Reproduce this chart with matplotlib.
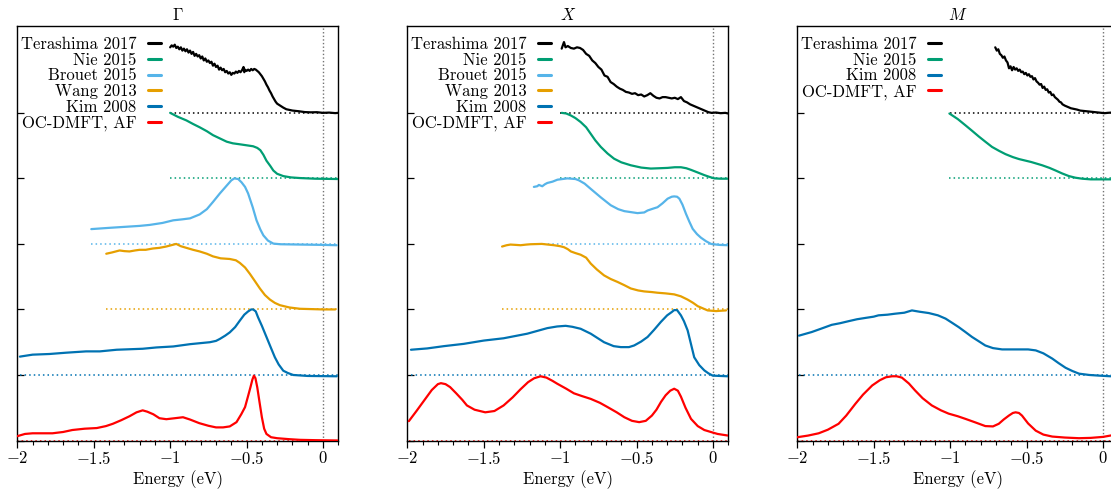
import numpy as np
import matplotlib
matplotlib.use("Agg")
import matplotlib.pyplot as plt
from matplotlib.ticker import FuncFormatter, MultipleLocator

plt.rcParams["font.family"] = ["cmr10", "DejaVu Serif"]
plt.rcParams["mathtext.fontset"] = "cm"
plt.rcParams["axes.unicode_minus"] = False

# ---------------------------------------------------------------- data
# Normalised spectra (0..1) versus energy (eV), one panel per k-point.

# Gamma point
G_ter_x = [-1.00, -0.99, -0.98, -0.97, -0.96, -0.95, -0.94, -0.93, -0.92, -0.91, -0.90, -0.89,
           -0.88, -0.87, -0.86, -0.85, -0.84, -0.83, -0.82, -0.81, -0.80, -0.79, -0.78, -0.77,
           -0.76, -0.75, -0.74, -0.73, -0.72, -0.71, -0.70, -0.69, -0.68, -0.67, -0.66, -0.65,
           -0.64, -0.63, -0.62, -0.61, -0.60, -0.59, -0.58, -0.57, -0.56, -0.55, -0.54, -0.53,
           -0.52, -0.515, -0.51, -0.50, -0.49, -0.48, -0.47, -0.46, -0.45, -0.44, -0.43, -0.42,
           -0.41, -0.40, -0.39, -0.38, -0.37, -0.36, -0.35, -0.34, -0.33, -0.32, -0.31, -0.30,
           -0.28, -0.26, -0.24, -0.22, -0.20, -0.16, -0.12, -0.08, -0.04, 0.00, 0.04, 0.08, 0.10]
G_ter_y = [1.00, 1.03, 1.01, 1.04, 0.99, 1.01, 0.97, 1.00, 0.95, 0.98, 0.94, 0.97,
           0.92, 0.95, 0.90, 0.93, 0.87, 0.90, 0.86, 0.88, 0.83, 0.86, 0.80, 0.83,
           0.78, 0.80, 0.76, 0.78, 0.72, 0.75, 0.70, 0.72, 0.66, 0.69, 0.65, 0.67,
           0.62, 0.64, 0.60, 0.62, 0.58, 0.61, 0.60, 0.63, 0.61, 0.64, 0.62, 0.65,
           0.70, 0.62, 0.66, 0.64, 0.66, 0.64, 0.67, 0.65, 0.67, 0.66, 0.64, 0.62,
           0.59, 0.56, 0.52, 0.48, 0.43, 0.39, 0.34, 0.30, 0.25, 0.21, 0.17, 0.14,
           0.11, 0.08, 0.055, 0.045, 0.035, 0.025, 0.012, 0.008, 0.01, 0.0, 0.004, -0.004, 0.0]

G_nie_x = [-1.0, -0.95, -0.894, -0.85, -0.807, -0.76, -0.72, -0.675, -0.63, -0.59, -0.544, -0.50,
           -0.457, -0.43, -0.41, -0.39, -0.37, -0.345, -0.325, -0.30, -0.26, -0.21, -0.15, -0.05, 0.1]
G_nie_y = [1.0, 0.94, 0.885, 0.83, 0.78, 0.72, 0.66, 0.61, 0.56, 0.535, 0.52, 0.505,
           0.49, 0.465, 0.43, 0.36, 0.27, 0.19, 0.12, 0.07, 0.035, 0.015, 0.005, -0.005, -0.01]

G_bro_x = [-1.516, -1.40, -1.30, -1.20, -1.134, -1.05, -0.98, -0.92, -0.87, -0.807, -0.76, -0.72,
           -0.675, -0.63, -0.60, -0.58, -0.555, -0.533, -0.51, -0.49, -0.46, -0.435, -0.41, -0.39,
           -0.36, -0.325, -0.28, -0.15, 0.0, 0.09]
G_bro_y = [0.226, 0.245, 0.26, 0.275, 0.29, 0.32, 0.36, 0.375, 0.39, 0.45, 0.53, 0.64,
           0.77, 0.89, 0.97, 1.0, 0.99, 0.94, 0.87, 0.77, 0.56, 0.36, 0.22, 0.13,
           0.05, 0.005, -0.005, -0.01, -0.015, -0.02]

G_wan_x = [-1.418, -1.38, -1.331, -1.30, -1.266, -1.23, -1.2, -1.16, -1.113, -1.07, -1.026, -0.96,
           -0.93, -0.894, -0.85, -0.807, -0.76, -0.72, -0.67, -0.61, -0.57, -0.544, -0.51, -0.479,
           -0.445, -0.413, -0.38, -0.347, -0.315, -0.282, -0.22, -0.15, 0.0, 0.08]
G_wan_y = [0.85, 0.87, 0.90, 0.89, 0.885, 0.90, 0.91, 0.91, 0.93, 0.94, 0.96, 1.0,
           0.965, 0.94, 0.91, 0.885, 0.85, 0.81, 0.78, 0.77, 0.75, 0.71, 0.64, 0.545,
           0.43, 0.32, 0.22, 0.15, 0.10, 0.065, 0.03, 0.01, 0.0, 0.0]

G_kim_x = [-1.983, -1.9, -1.79, -1.68, -1.55, -1.46, -1.35, -1.18, -1.09, -0.98, -0.87, -0.74,
           -0.70, -0.675, -0.64, -0.61, -0.575, -0.544, -0.515, -0.49, -0.47, -0.457, -0.44, -0.425,
           -0.40, -0.37, -0.34, -0.315, -0.29, -0.26, -0.23, -0.195, -0.1, 0.09]
G_kim_y = [0.28, 0.31, 0.32, 0.34, 0.36, 0.36, 0.385, 0.40, 0.42, 0.435, 0.47, 0.50,
           0.52, 0.55, 0.60, 0.65, 0.73, 0.83, 0.92, 0.97, 1.0, 1.0, 0.97, 0.88,
           0.75, 0.58, 0.41, 0.27, 0.16, 0.065, 0.03, 0.0, -0.015, -0.02]

G_dmft_x = [-2.0, -1.95, -1.9, -1.83, -1.77, -1.7, -1.64, -1.56, -1.48, -1.42, -1.375, -1.32,
            -1.266, -1.22, -1.18, -1.15, -1.11, -1.07, -1.025, -0.97, -0.916, -0.87, -0.81, -0.75,
            -0.70, -0.654, -0.61, -0.566, -0.535, -0.51, -0.49, -0.475, -0.462, -0.452, -0.442, -0.43,
            -0.415, -0.40, -0.385, -0.37, -0.34, -0.30, -0.22, -0.15, -0.05, 0.1]
G_dmft_y = [0.066, 0.10, 0.11, 0.11, 0.11, 0.13, 0.16, 0.18, 0.19, 0.22, 0.255, 0.31,
            0.37, 0.43, 0.46, 0.44, 0.40, 0.34, 0.325, 0.34, 0.355, 0.32, 0.265, 0.225,
            0.20, 0.20, 0.215, 0.28, 0.40, 0.51, 0.68, 0.81, 0.93, 0.99, 0.95, 0.81,
            0.58, 0.355, 0.18, 0.10, 0.05, 0.035, 0.02, 0.01, 0.005, 0.0]

# X point
X_ter_x = [-0.99, -0.975, -0.965, -0.95, -0.93, -0.91, -0.89, -0.87, -0.85, -0.83, -0.81, -0.79,
           -0.77, -0.75, -0.73, -0.71, -0.69, -0.67, -0.65, -0.63, -0.61, -0.59, -0.57, -0.55,
           -0.53, -0.51, -0.49, -0.47, -0.45, -0.43, -0.41, -0.39, -0.37, -0.35, -0.33, -0.31,
           -0.29, -0.27, -0.25, -0.23, -0.21, -0.19, -0.17, -0.15, -0.13, -0.11, -0.09, -0.07,
           -0.05, -0.03, -0.01, 0.02, 0.05, 0.08, 0.10]
X_ter_y = [0.98, 1.08, 1.00, 1.02, 0.99, 0.98, 1.00, 0.99, 0.96, 0.90, 0.87, 0.80,
           0.76, 0.70, 0.66, 0.57, 0.55, 0.47, 0.44, 0.40, 0.37, 0.35, 0.32, 0.31,
           0.29, 0.30, 0.27, 0.28, 0.25, 0.27, 0.30, 0.26, 0.23, 0.22, 0.24, 0.24,
           0.23, 0.22, 0.23, 0.21, 0.24, 0.18, 0.16, 0.13, 0.11, 0.09, 0.07, 0.05,
           0.03, 0.01, 0.0, 0.005, -0.005, 0.0, -0.01]

X_nie_x = [-0.99, -0.96, -0.93, -0.9, -0.866, -0.83, -0.80, -0.77, -0.734, -0.69, -0.647, -0.60,
           -0.538, -0.47, -0.407, -0.35, -0.297, -0.25, -0.21, -0.175, -0.144, -0.10, -0.057, -0.02,
           0.009, 0.05, 0.096]
X_nie_y = [1.0, 0.99, 0.96, 0.92, 0.86, 0.78, 0.68, 0.58, 0.48, 0.38, 0.30, 0.245,
           0.20, 0.165, 0.15, 0.155, 0.16, 0.17, 0.17, 0.155, 0.13, 0.09, 0.05, 0.02,
           0.0, -0.005, -0.005]

X_bro_x = [-1.172, -1.15, -1.139, -1.117, -1.10, -1.084, -1.05, -1.018, -0.953, -0.90, -0.877, -0.84,
           -0.80, -0.734, -0.669, -0.62, -0.58, -0.494, -0.45, -0.428, -0.39, -0.363, -0.33, -0.297,
           -0.27, -0.254, -0.235, -0.22, -0.20, -0.177, -0.155, -0.133, -0.105, -0.079, -0.045, -0.013,
           0.04, 0.096]
X_bro_y = [0.87, 0.88, 0.90, 0.88, 0.91, 0.93, 0.95, 0.98, 1.0, 0.99, 0.97, 0.92,
           0.84, 0.71, 0.59, 0.53, 0.50, 0.47, 0.48, 0.51, 0.54, 0.56, 0.62, 0.69,
           0.72, 0.725, 0.72, 0.69, 0.60, 0.46, 0.34, 0.23, 0.15, 0.095, 0.04, 0.0,
           -0.015, -0.02]

X_wan_x = [-1.38, -1.35, -1.325, -1.29, -1.259, -1.22, -1.193, -1.12, -1.04, -1.0, -0.975, -0.95,
           -0.93, -0.90, -0.866, -0.83, -0.80, -0.76, -0.713, -0.67, -0.625, -0.58, -0.538, -0.49,
           -0.45, -0.40, -0.363, -0.31, -0.254, -0.21, -0.166, -0.13, -0.10, -0.07, -0.035, 0.02,
           0.05, 0.085]
X_wan_y = [0.96, 0.98, 0.99, 0.985, 0.98, 0.99, 0.995, 1.0, 0.98, 0.965, 0.95, 0.92,
           0.885, 0.86, 0.835, 0.79, 0.70, 0.61, 0.52, 0.465, 0.42, 0.37, 0.32, 0.29,
           0.275, 0.265, 0.255, 0.245, 0.23, 0.20, 0.15, 0.10, 0.05, 0.02, -0.015, -0.025,
           -0.02, -0.015]

X_kim_x = [-1.976, -1.87, -1.76, -1.63, -1.50, -1.37, -1.215, -1.084, -1.02, -0.964, -0.92, -0.866,
           -0.80, -0.713, -0.65, -0.603, -0.55, -0.516, -0.47, -0.428, -0.385, -0.341, -0.30, -0.27,
           -0.254, -0.235, -0.21, -0.19, -0.166, -0.145, -0.123, -0.09, -0.057, -0.03, -0.002, 0.096]
X_kim_y = [0.385, 0.405, 0.44, 0.475, 0.525, 0.56, 0.63, 0.715, 0.74, 0.75, 0.735, 0.705,
           0.63, 0.50, 0.44, 0.425, 0.425, 0.45, 0.51, 0.58, 0.69, 0.81, 0.91, 0.96,
           0.99, 0.99, 0.91, 0.82, 0.68, 0.48, 0.27, 0.15, 0.07, 0.025, -0.01, -0.02]

X_dmft_x = [-1.99, -1.94, -1.89, -1.84, -1.80, -1.78, -1.75, -1.72, -1.68, -1.64, -1.61, -1.56,
            -1.49, -1.43, -1.37, -1.31, -1.26, -1.21, -1.17, -1.128, -1.09, -1.05, -1.018, -0.96,
            -0.91, -0.86, -0.80, -0.74, -0.69, -0.63, -0.58, -0.53, -0.483, -0.44, -0.40, -0.37,
            -0.34, -0.31, -0.28, -0.254, -0.23, -0.21, -0.18, -0.144, -0.10, -0.057, 0.0, 0.03, 0.096]
X_dmft_y = [0.295, 0.45, 0.61, 0.77, 0.86, 0.875, 0.86, 0.815, 0.72, 0.62, 0.535, 0.47,
            0.43, 0.45, 0.535, 0.66, 0.78, 0.89, 0.95, 0.98, 0.96, 0.91, 0.865, 0.79,
            0.72, 0.68, 0.635, 0.575, 0.51, 0.43, 0.355, 0.30, 0.28, 0.30, 0.38, 0.47,
            0.59, 0.69, 0.76, 0.79, 0.76, 0.67, 0.50, 0.33, 0.22, 0.16, 0.12, 0.10, 0.076]

# M point
M_ter_x = [-0.705, -0.695, -0.685, -0.675, -0.665, -0.655, -0.645, -0.635, -0.625, -0.615, -0.605,
           -0.595, -0.585, -0.575, -0.565, -0.555, -0.545, -0.535, -0.525, -0.515, -0.505, -0.495,
           -0.485, -0.475, -0.465, -0.455, -0.445, -0.435, -0.425, -0.415, -0.405, -0.395, -0.385,
           -0.375, -0.365, -0.355, -0.345, -0.335, -0.325, -0.315, -0.305, -0.295, -0.285, -0.275,
           -0.265, -0.25, -0.23, -0.21, -0.19, -0.17, -0.15, -0.13, -0.11, -0.09, -0.07, -0.05,
           -0.03, -0.01, 0.01, 0.03, 0.06]
M_ter_y = [1.0, 0.95, 0.97, 0.90, 0.88, 0.84, 0.86, 0.80, 0.77, 0.68, 0.71,
           0.65, 0.70, 0.66, 0.68, 0.64, 0.66, 0.62, 0.63, 0.59, 0.61, 0.57,
           0.59, 0.55, 0.56, 0.51, 0.53, 0.48, 0.46, 0.43, 0.44, 0.38, 0.40,
           0.35, 0.36, 0.31, 0.32, 0.27, 0.28, 0.24, 0.22, 0.20, 0.17, 0.16,
           0.13, 0.11, 0.09, 0.07, 0.06, 0.05, 0.035, 0.03, 0.025, 0.02, 0.015, 0.01,
           0.005, 0.0, -0.005, 0.0, 0.005]

M_nie_x = [-1.005, -0.95, -0.90, -0.856, -0.813, -0.77, -0.726, -0.68, -0.638, -0.59, -0.55, -0.47,
           -0.398, -0.35, -0.31, -0.267, -0.223, -0.18, -0.136, -0.08, 0.04, 0.1]
M_nie_y = [0.99, 0.905, 0.81, 0.725, 0.64, 0.56, 0.48, 0.42, 0.37, 0.325, 0.295, 0.25,
           0.20, 0.16, 0.12, 0.075, 0.035, 0.01, -0.005, -0.015, -0.015, -0.015]

M_kim_x = [-1.989, -1.906, -1.84, -1.775, -1.72, -1.666, -1.61, -1.556, -1.50, -1.469, -1.41, -1.36,
           -1.30, -1.25, -1.20, -1.14, -1.08, -1.03, -0.99, -0.944, -0.90, -0.857, -0.81, -0.77,
           -0.72, -0.66, -0.60, -0.55, -0.49, -0.44, -0.39, -0.332, -0.29, -0.245, -0.20, -0.157,
           -0.09, -0.026, 0.05]
M_kim_y = [0.60, 0.655, 0.71, 0.765, 0.79, 0.82, 0.85, 0.87, 0.89, 0.91, 0.92, 0.935,
           0.95, 0.985, 0.965, 0.945, 0.91, 0.86, 0.80, 0.73, 0.655, 0.58, 0.51, 0.45,
           0.41, 0.39, 0.39, 0.39, 0.39, 0.375, 0.33, 0.25, 0.18, 0.11, 0.06, 0.02,
           0.0, -0.01, -0.02]

M_dmft_x = [-2.0, -1.93, -1.86, -1.80, -1.73, -1.68, -1.62, -1.57, -1.51, -1.46, -1.42, -1.38,
            -1.35, -1.316, -1.27, -1.23, -1.18, -1.12, -1.06, -1.01, -0.95, -0.90, -0.84, -0.77,
            -0.72, -0.682, -0.65, -0.616, -0.59, -0.572, -0.55, -0.53, -0.49, -0.44, -0.39, -0.332,
            -0.25, -0.157, -0.08, 0.0, 0.05, 0.1]
M_dmft_y = [0.05, 0.075, 0.11, 0.165, 0.255, 0.38, 0.56, 0.70, 0.84, 0.92, 0.965, 0.98,
            0.98, 0.96, 0.87, 0.765, 0.645, 0.535, 0.46, 0.41, 0.37, 0.33, 0.28, 0.22,
            0.215, 0.255, 0.32, 0.38, 0.42, 0.43, 0.42, 0.38, 0.26, 0.15, 0.09, 0.06,
            0.045, 0.035, 0.04, 0.055, 0.076, 0.09]

panel_titles = [r"$\Gamma$", r"$X$", r"$M$"]
x_label = "Energy (eV)"

# source name, colour
SOURCES = {
    "Terashima 2017": "#000000",
    "Nie 2015": "#009E73",
    "Brouet 2015": "#56B4E9",
    "Wang 2013": "#E69F00",
    "Kim 2008": "#0072B2",
    "OC-DMFT, AF": "#FF0000",
}

# (source, x, y, stack level) per panel
panels = [
    [("Terashima 2017", G_ter_x, G_ter_y, 5), ("Nie 2015", G_nie_x, G_nie_y, 4),
     ("Brouet 2015", G_bro_x, G_bro_y, 3), ("Wang 2013", G_wan_x, G_wan_y, 2),
     ("Kim 2008", G_kim_x, G_kim_y, 1), ("OC-DMFT, AF", G_dmft_x, G_dmft_y, 0)],
    [("Terashima 2017", X_ter_x, X_ter_y, 5), ("Nie 2015", X_nie_x, X_nie_y, 4),
     ("Brouet 2015", X_bro_x, X_bro_y, 3), ("Wang 2013", X_wan_x, X_wan_y, 2),
     ("Kim 2008", X_kim_x, X_kim_y, 1), ("OC-DMFT, AF", X_dmft_x, X_dmft_y, 0)],
    [("Terashima 2017", M_ter_x, M_ter_y, 5), ("Nie 2015", M_nie_x, M_nie_y, 4),
     ("Kim 2008", M_kim_x, M_kim_y, 1), ("OC-DMFT, AF", M_dmft_x, M_dmft_y, 0)],
]

XMIN, XMAX = -2.0, 0.1
YMAX = 6.33

# ---------------------------------------------------------------- figure
W, H = 1111, 496
fig = plt.figure(figsize=(W / 100, H / 100), dpi=100)

ax_left_px = [17.3, 407.3, 797.3]
ax_w_px, ax_top_px, ax_bot_px = 321.0, 25.7, 440.5

fmt = FuncFormatter(lambda v, pos: f"${v:g}$" if v != 0 else "$0$")

for left, title, series in zip(ax_left_px, panel_titles, panels):
    ax = fig.add_axes([left / W, (H - ax_bot_px) / H, ax_w_px / W, (ax_bot_px - ax_top_px) / H])
    ax.set_xlim(XMIN, XMAX)
    ax.set_ylim(0, YMAX)

    ax.axvline(0, color="0.45", lw=1.0, ls=(0, (1, 1.6)), zorder=1)

    for name, x, y, level in series:
        col = SOURCES[name]
        xa = np.asarray(x)
        ya = np.asarray(y) + level
        start = min(xa[0], -1.0)
        ax.plot([start, XMAX], [level, level], color=col, lw=1.1, ls=(0, (1, 2)), zorder=2)
        ax.plot(xa, ya, color=col, lw=1.6, label=name, zorder=3,
                solid_joinstyle="round", solid_capstyle="round")

    ax.set_title(title, fontsize=12, pad=4)
    ax.set_xlabel(x_label, fontsize=12, labelpad=2)
    ax.xaxis.set_major_locator(MultipleLocator(0.5))
    ax.xaxis.set_minor_locator(MultipleLocator(0.1))
    ax.xaxis.set_major_formatter(fmt)
    ax.set_yticks(range(0, 6))
    ax.set_yticklabels([])
    ax.tick_params(axis="x", which="major", direction="out", length=5, width=0.9, labelsize=12, pad=2)
    ax.tick_params(axis="x", which="minor", direction="out", length=3, width=0.8)
    ax.tick_params(axis="y", which="major", direction="in", length=5, width=0.9)
    for sp in ax.spines.values():
        sp.set_linewidth(1.0)

    leg = ax.legend(loc="upper left", bbox_to_anchor=(0.0, 0.982), frameon=False,
                    markerfirst=False, fontsize=12, handlelength=0.8, handletextpad=0.7,
                    labelspacing=0.03, borderaxespad=0.1, borderpad=0.1)
    for ln in leg.get_lines():
        ln.set_linewidth(2.2)

fig.savefig("out.png", dpi=100)
